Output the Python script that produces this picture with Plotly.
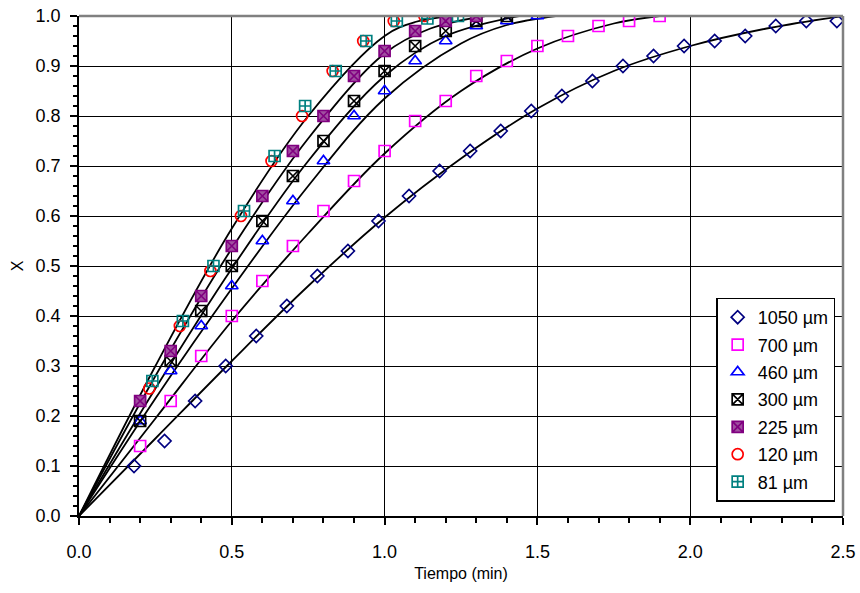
import plotly.graph_objects as go

# ---- experimental points ----
t_1050 = [0.18, 0.28, 0.38, 0.48, 0.58, 0.68, 0.78, 0.88, 0.98, 1.08, 1.18, 1.28, 1.38, 1.48, 1.58, 1.68, 1.78, 1.88, 1.98, 2.08, 2.18, 2.28, 2.38, 2.48]
x_1050 = [0.10, 0.15, 0.23, 0.30, 0.36, 0.42, 0.48, 0.53, 0.59, 0.64, 0.69, 0.73, 0.77, 0.81, 0.84, 0.87, 0.90, 0.92, 0.94, 0.95, 0.96, 0.98, 0.99, 0.99]

t_700 = [0.2, 0.3, 0.4, 0.5, 0.6, 0.7, 0.8, 0.9, 1.0, 1.1, 1.2, 1.3, 1.4, 1.5, 1.6, 1.7, 1.8, 1.9]
x_700 = [0.14, 0.23, 0.32, 0.40, 0.47, 0.54, 0.61, 0.67, 0.73, 0.79, 0.83, 0.88, 0.91, 0.94, 0.96, 0.98, 0.99, 1.00]

t_460 = [0.2, 0.3, 0.4, 0.5, 0.6, 0.7, 0.8, 0.9, 1.0, 1.1, 1.2, 1.3, 1.4, 1.5]
x_460 = [0.19, 0.29, 0.38, 0.46, 0.55, 0.63, 0.71, 0.80, 0.85, 0.91, 0.95, 0.98, 0.99, 1.00]

t_300 = [0.2, 0.3, 0.4, 0.5, 0.6, 0.7, 0.8, 0.9, 1.0, 1.1, 1.2, 1.3, 1.4]
x_300 = [0.19, 0.31, 0.41, 0.50, 0.59, 0.68, 0.75, 0.83, 0.89, 0.94, 0.97, 0.99, 1.00]

t_225 = [0.2, 0.3, 0.4, 0.5, 0.6, 0.7, 0.8, 0.9, 1.0, 1.1, 1.2, 1.3]
x_225 = [0.23, 0.33, 0.44, 0.54, 0.64, 0.73, 0.80, 0.88, 0.93, 0.97, 0.99, 1.00]

t_120 = [0.23, 0.33, 0.43, 0.53, 0.63, 0.73, 0.83, 0.93, 1.03, 1.13]
x_120 = [0.255, 0.38, 0.49, 0.60, 0.71, 0.80, 0.89, 0.95, 0.99, 1.00]

t_81 = [0.24, 0.34, 0.44, 0.54, 0.64, 0.74, 0.84, 0.94, 1.04, 1.14, 1.24]
x_81 = [0.27, 0.39, 0.50, 0.61, 0.72, 0.82, 0.89, 0.95, 0.99, 0.995, 1.00]

# ---- model curves ----
ct_1050 = [0, 0.25, 0.5, 0.75, 1.0, 1.25, 1.5, 1.75, 2.0, 2.25, 2.5]
cx_1050 = [0, 0.155, 0.31, 0.46, 0.597, 0.715, 0.815, 0.89, 0.94, 0.975, 1.0]
ct_700 = [0, 0.25, 0.5, 0.75, 1.0, 1.25, 1.5, 1.75, 1.9]
cx_700 = [0, 0.195, 0.39, 0.565, 0.725, 0.85, 0.935, 0.985, 1.0]
ct_460 = [0, 0.25, 0.5, 0.75, 1.0, 1.25, 1.4, 1.56]
cx_460 = [0, 0.235, 0.455, 0.66, 0.835, 0.945, 0.982, 1.0]
ct_300 = [0, 0.25, 0.5, 0.75, 1.0, 1.2, 1.44]
cx_300 = [0, 0.255, 0.495, 0.71, 0.88, 0.96, 1.0]
ct_225 = [0, 0.25, 0.5, 0.75, 1.0, 1.15, 1.33]
cx_225 = [0, 0.28, 0.535, 0.755, 0.925, 0.975, 1.0]
ct_fine = [0, 0.25, 0.5, 0.75, 1.0, 1.1, 1.22]
cx_fine = [0, 0.30, 0.575, 0.80, 0.96, 0.988, 1.0]

labels = ["1050 µm", "700 µm", "460 µm", "300 µm", "225 µm", "120 µm", "81 µm"]
x_ticks = [0.0, 0.5, 1.0, 1.5, 2.0, 2.5]
y_ticks = [0.0, 0.1, 0.2, 0.3, 0.4, 0.5, 0.6, 0.7, 0.8, 0.9, 1.0]

fig = go.Figure()

for ct, cx in [(ct_1050, cx_1050), (ct_700, cx_700), (ct_460, cx_460),
               (ct_300, cx_300), (ct_225, cx_225), (ct_fine, cx_fine)]:
    fig.add_trace(go.Scatter(x=ct, y=cx, mode="lines", line=dict(color="black", width=1.8, shape="spline", smoothing=1.0),
                             showlegend=False, hoverinfo="skip"))

series = [
    (t_1050, x_1050, "diamond-open", "#000080", "#000080", 10),
    (t_700, x_700, "square-open", "#FF00FF", "#FF00FF", 11),
    (t_460, x_460, "triangle-up-open", "#0000FF", "#0000FF", 11),
    (t_300, x_300, "square-x-open", "#000000", "#000000", 11),
    (t_225, x_225, "square-x", "#A050A0", "#800080", 11),
    (t_120, x_120, "circle-open", "#FF0000", "#FF0000", 11),
    (t_81, x_81, "square-cross-open", "#008080", "#008080", 11),
]
for i, (tx, xx, sym, fc, lc, sz) in enumerate(series):
    fig.add_trace(go.Scatter(x=tx, y=xx, mode="markers", name=labels[i], legendgroup=str(i),
                             marker=dict(symbol=sym, size=sz, color=fc, line=dict(color=lc, width=1.7))))

fam = "Liberation Sans, Arial, sans-serif"
tick_font = dict(family=fam, size=18, color="black")
title_font = dict(family=fam, size=16, color="black")

fig.update_xaxes(range=[0, 2.5], tickvals=x_ticks, ticktext=[f"{v:.1f}" for v in x_ticks],
                 automargin=False,
                 showgrid=True, gridcolor="black", gridwidth=1, zeroline=False,
                 showline=True, linecolor="black", linewidth=1.5,
                 ticks="outside", ticklen=7, tickcolor="black", tickwidth=1.5,
                 ticklabelstandoff=12,
                 minor=dict(dtick=0.1, ticks="outside", ticklen=5, tickcolor="black", tickwidth=1.5, showgrid=False),
                 tickfont=tick_font, title=dict(text="Tiempo (min)", font=title_font, standoff=6))
fig.update_yaxes(range=[0, 1.0], tickvals=y_ticks, ticktext=[f"{v:.1f}" for v in y_ticks],
                 automargin=False,
                 showgrid=True, gridcolor="black", gridwidth=1, zeroline=False,
                 showline=True, linecolor="black", linewidth=1.5,
                 ticks="outside", ticklen=7, tickcolor="black", tickwidth=1.5,
                 ticklabelstandoff=6,
                 minor=dict(dtick=0.02, ticks="outside", ticklen=4, tickcolor="black", tickwidth=1.5, showgrid=False),
                 tickfont=tick_font, title=dict(text="X", font=title_font, standoff=8))

fig.add_shape(type="line", xref="paper", yref="paper", x0=0, x1=1, y0=1, y1=1, line=dict(color="#808080", width=2.5))
fig.add_shape(type="line", xref="paper", yref="paper", x0=1, x1=1, y0=0, y1=1, line=dict(color="#808080", width=2.5))

fig.update_layout(
    width=860, height=593,
    margin=dict(l=79, r=17, t=16, b=77, autoexpand=False),
    plot_bgcolor="white", paper_bgcolor="white",
    font=tick_font,
    legend=dict(x=0.834, y=0.437, xanchor="left", yanchor="top",
                bgcolor="white", bordercolor="black", borderwidth=1.5,
                font=dict(family=fam, size=18, color="black"),
                tracegroupgap=1, itemwidth=30),
)

fig.write_html("out.html")
